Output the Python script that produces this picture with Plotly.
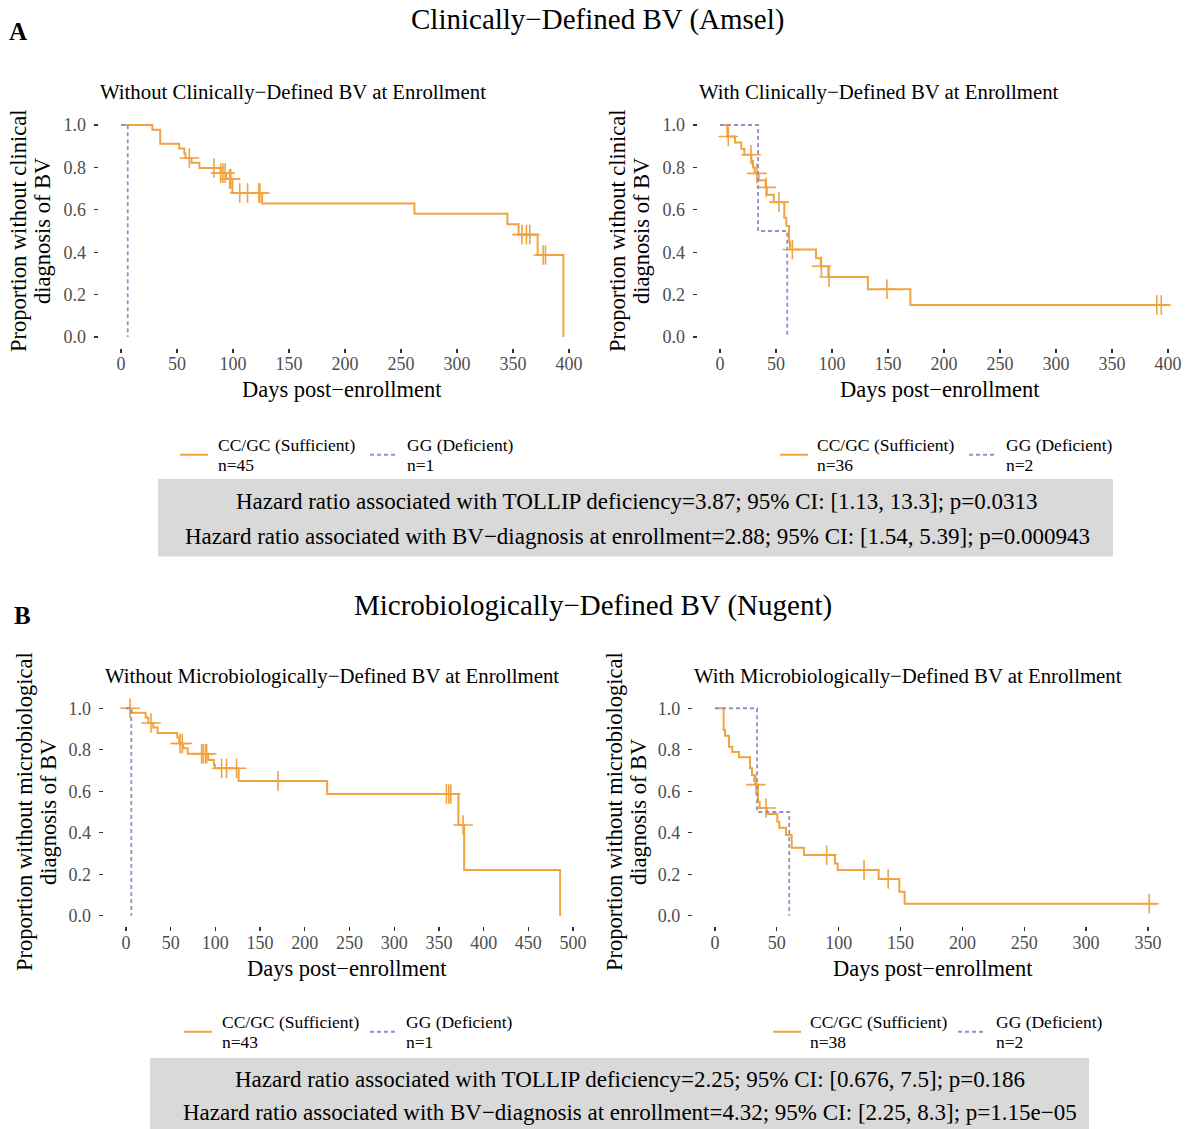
import numpy as np
import plotly.graph_objects as go

W, H = 1188, 1129
ORANGE = "#F1A340"
PURPLE = "#998EC3"
FONT = "Liberation Serif"

# ---------------- data ----------------
# Panel A-left: Without clinically-defined BV at enrollment
a1_suff_time = [0, 28, 35, 52, 56.5, 57.5, 63, 70, 89, 94, 99.5, 126, 262, 345, 355, 372, 395]
a1_suff_surv = [1.0, 0.978, 0.911, 0.889, 0.867, 0.844, 0.822, 0.797, 0.773, 0.746, 0.679, 0.630, 0.581, 0.532, 0.483, 0.387, 0.0]
a1_suff_cens = [61, 83, 89, 91, 93, 97, 98, 106, 113, 123, 124, 358, 362, 365, 377, 379]
a1_def_time = [0, 6]
a1_def_surv = [1.0, 0.0]

# Panel A-right: With clinically-defined BV at enrollment
a2_suff_time = [0, 6.5, 13.4, 19, 21.7, 28, 29.5, 31, 34.5, 40.8, 41.8, 48, 57.4, 59.2, 61.6, 62.5, 85.7, 90, 96.7, 132, 170, 401]
a2_suff_surv = [1.0, 0.946, 0.917, 0.888, 0.860, 0.831, 0.800, 0.772, 0.739, 0.706, 0.671, 0.636, 0.562, 0.524, 0.449, 0.413, 0.372, 0.334, 0.283, 0.225, 0.151, 0.151]
a2_suff_cens = [7.4, 27.7, 33, 41.3, 52.7, 64.6, 90.5, 97.3, 149, 390, 394]
a2_def_time = [0, 34, 60]
a2_def_surv = [1.0, 0.5, 0.0]

# Panel B-left: Without microbiologically-defined BV at enrollment
b1_suff_time = [0, 6.3, 22, 25, 30.5, 35.4, 57.4, 59.6, 64, 69, 92, 98.4, 99.5, 126, 225, 371.8, 378.2, 485.5]
b1_suff_surv = [1.0, 0.979, 0.955, 0.929, 0.907, 0.881, 0.859, 0.830, 0.807, 0.781, 0.751, 0.727, 0.711, 0.650, 0.587, 0.437, 0.220, 0.0]
b1_suff_cens = [4.5, 28, 60.5, 63, 84.6, 86.4, 89, 90.2, 107, 112.5, 123.7, 170, 358.4, 361, 363.3, 377]
b1_def_time = [0, 6]
b1_def_surv = [1.0, 0.0]

# Panel B-right: With microbiologically-defined BV at enrollment
b2_suff_time = [0, 7.0, 8.1, 11.3, 14.0, 19.4, 28.3, 29.9, 31.8, 32.6, 34.8, 36.1, 42, 50.4, 52.0, 57.4, 62.0, 71.9, 97.0, 99.2, 132.3, 149.0, 153.3, 357]
b2_suff_surv = [1.0, 0.897, 0.868, 0.815, 0.789, 0.764, 0.711, 0.678, 0.650, 0.632, 0.550, 0.519, 0.490, 0.453, 0.424, 0.389, 0.328, 0.293, 0.252, 0.220, 0.177, 0.116, 0.058, 0.058]
b2_suff_cens = [33.1, 41.3, 90.3, 120.5, 140, 351]
b2_def_time = [0, 34, 60]
b2_def_surv = [1.0, 0.5, 0.0]

x_ticks_a = [0, 50, 100, 150, 200, 250, 300, 350, 400]
x_ticks_b1 = [0, 50, 100, 150, 200, 250, 300, 350, 400, 450, 500]
x_ticks_b2 = [0, 50, 100, 150, 200, 250, 300, 350]
y_ticks = [0.0, 0.2, 0.4, 0.6, 0.8, 1.0]

titles_main = ["Clinically\u2212Defined BV (Amsel)", "Microbiologically\u2212Defined BV (Nugent)"]
sub_titles = ["Without Clinically\u2212Defined BV at Enrollment", "With Clinically\u2212Defined BV at Enrollment",
              "Without Microbiologically\u2212Defined BV at Enrollment", "With Microbiologically\u2212Defined BV at Enrollment"]
y_titles = [("Proportion without clinical", "diagnosis of BV"), ("Proportion without clinical", "diagnosis of BV"),
            ("Proportion without microbiological", "diagnosis of BV"),
            ("Proportion without microbiological", "diagnosis of BV")]
n_suff = [45, 36, 43, 38]
n_def = [1, 2, 1, 2]
hr_text_a = ["Hazard ratio associated with TOLLIP deficiency=3.87; 95% CI: [1.13, 13.3]; p=0.0313",
             "Hazard ratio associated with BV\u2212diagnosis at enrollment=2.88; 95% CI: [1.54, 5.39]; p=0.000943"]
hr_text_b = ["Hazard ratio associated with TOLLIP deficiency=2.25; 95% CI: [0.676, 7.5]; p=0.186",
             "Hazard ratio associated with BV\u2212diagnosis at enrollment=4.32; 95% CI: [2.25, 8.3]; p=1.15e\u221205"]


def px(x):
    return x / W


def py(y):
    return 1 - y / H


def txt(x, y, text, size, xanchor="center", angle=0):
    return dict(x=px(x), y=py(y), xref="paper", yref="paper", text=text, showarrow=False,
                xanchor=xanchor, yanchor="middle", textangle=angle,
                font=dict(family=FONT, size=size, color="black"))


# panel geometry (pixels)
panels = [
    dict(xd=(98.6, 591.4), xr=(-20, 420), yd=(347.6, 114.4), ticks=x_ticks_a,
         data=(a1_suff_time, a1_suff_surv, a1_suff_cens, a1_def_time, a1_def_surv)),
    dict(xd=(697.6, 1188), xr=(-20, (1188 - 720) / 1.12), yd=(347.6, 114.4), ticks=x_ticks_a,
         data=(a2_suff_time, a2_suff_surv, a2_suff_cens, a2_def_time, a2_def_surv)),
    dict(xd=(103.6, 595.4), xr=(-25, 525), yd=(926.1, 697.9), ticks=x_ticks_b1,
         data=(b1_suff_time, b1_suff_surv, b1_suff_cens, b1_def_time, b1_def_surv)),
    dict(xd=(692.9, 1178.7), xr=(-17.85, 374.85), yd=(926.1, 697.9), ticks=x_ticks_b2,
         data=(b2_suff_time, b2_suff_surv, b2_suff_cens, b2_def_time, b2_def_surv)),
]

fig = go.Figure()
layout_axes = {}
annotations = []
shapes = []

for i, p in enumerate(panels):
    k = "" if i == 0 else str(i + 1)
    xa, ya = "x" + k, "y" + k
    st, ss, sc, dt, ds = p["data"]
    fig.add_trace(go.Scatter(x=st, y=ss, mode="lines", line=dict(color=ORANGE, width=2.0, shape="hv"),
                             xaxis=xa, yaxis=ya, showlegend=False, hoverinfo="skip"))
    st_arr, ss_arr = np.array(st), np.array(ss)
    idx = np.searchsorted(st_arr, np.array(sc), side="right") - 1
    fig.add_trace(go.Scatter(x=sc, y=ss_arr[idx], mode="markers",
                             marker=dict(symbol="cross-thin", size=14, color=ORANGE,
                                         line=dict(color=ORANGE, width=1.6)),
                             xaxis=xa, yaxis=ya, showlegend=False, hoverinfo="skip"))
    fig.add_trace(go.Scatter(x=dt, y=ds, mode="lines",
                             line=dict(color=PURPLE, width=1.8, shape="hv", dash="4px,3px"),
                             xaxis=xa, yaxis=ya, showlegend=False, hoverinfo="skip"))
    common = dict(showgrid=False, zeroline=False, showline=False, ticks="outside", ticklen=4,
                  tickwidth=1.3, tickcolor="#333333",
                  tickfont=dict(family=FONT, size=18, color="#4d4d4d"))
    layout_axes["xaxis" + k] = dict(domain=[px(p["xd"][0]), px(p["xd"][1])], range=list(p["xr"]),
                                    tickvals=p["ticks"], anchor=ya, ticklabelstandoff=-4,
                                    fixedrange=True, **common)
    layout_axes["yaxis" + k] = dict(domain=[py(p["yd"][0]), py(p["yd"][1])], range=[-0.05, 1.05],
                                    tickvals=y_ticks, tickformat=".1f", anchor=xa,
                                    ticklabelstandoff=4, fixedrange=True, **common)

    x0, x1 = p["xd"]
    y0, y1 = p["yd"]
    annotations.append(txt(x0 - 1, y1 - 22, sub_titles[i], 20.8, xanchor="left"))
    annotations.append(txt((x0 + x1) / 2 - 3, y0 + 42, "Days post\u2212enrollment", 22.5))

# y axis titles (two lines, rotated)
ytitle_pos = [(18, 42, 231), (617, 641, 231), (24, 48, 812), (614, 638, 812)]
for (xa_, xb_, yy), (l1, l2) in zip(ytitle_pos, y_titles):
    annotations.append(txt(xa_, yy, l1, 22.5, angle=-90))
    annotations.append(txt(xb_, yy, l2, 22.5, angle=-90))

# main titles and panel letters
annotations.append(txt(597, 20, titles_main[0], 29))
annotations.append(txt(593, 605, titles_main[1], 29))
annotations.append(txt(18, 32, "<b>A</b>", 25))
annotations.append(txt(22, 615, "<b>B</b>", 25))

# legends (key line + two-line label)
legend_pos = [  # (orange key x0, text x, purple key x0, text x, y line1, y line2)
    (180, 216, 370, 405, 444.5, 465),
    (780, 815, 969, 1004, 444.5, 465),
    (184, 220, 370, 404, 1021.5, 1042),
    (773, 808, 958, 994, 1021.5, 1042),
]
for i, (ox, otx, ppx, ptx, ya1, ya2) in enumerate(legend_pos):
    yc = (ya1 + ya2) / 2
    shapes.append(dict(type="line", xref="paper", yref="paper", x0=px(ox), x1=px(ox + 28),
                       y0=py(yc), y1=py(yc), line=dict(color=ORANGE, width=2.0)))
    shapes.append(dict(type="line", xref="paper", yref="paper", x0=px(ppx), x1=px(ppx + 28),
                       y0=py(yc), y1=py(yc), line=dict(color=PURPLE, width=1.8, dash="4px,3px")))
    annotations.append(txt(otx, ya1, "CC/GC (Sufficient)", 17.5, xanchor="left"))
    annotations.append(txt(otx, ya2, "n=%d" % n_suff[i], 17.5, xanchor="left"))
    annotations.append(txt(ptx, ya1, "GG (Deficient)", 17.5, xanchor="left"))
    annotations.append(txt(ptx, ya2, "n=%d" % n_def[i], 17.5, xanchor="left"))

# hazard ratio boxes
shapes.append(dict(type="rect", xref="paper", yref="paper", x0=px(158), x1=px(1113), y0=py(556.5),
                   y1=py(479), fillcolor="#d9d9d9", line=dict(width=0), layer="below"))
shapes.append(dict(type="rect", xref="paper", yref="paper", x0=px(150), x1=px(1089), y0=py(1129),
                   y1=py(1058), fillcolor="#d9d9d9", line=dict(width=0), layer="below"))
for t, yy in zip(hr_text_a, [501.5, 536.5]):
    annotations.append(txt(637, yy, t, 23))
for t, yy in zip(hr_text_b, [1079, 1112]):
    annotations.append(txt(630, yy, t, 23))

fig.update_layout(width=W, height=H, margin=dict(l=0, r=0, t=0, b=0), paper_bgcolor="white",
                  plot_bgcolor="white", showlegend=False, annotations=annotations, shapes=shapes,
                  hovermode=False, **layout_axes)

fig.write_html("out.html", config={"displayModeBar": False, "staticPlot": True},
               post_script="document.body.style.margin='0px';document.body.style.overflow='hidden';")
